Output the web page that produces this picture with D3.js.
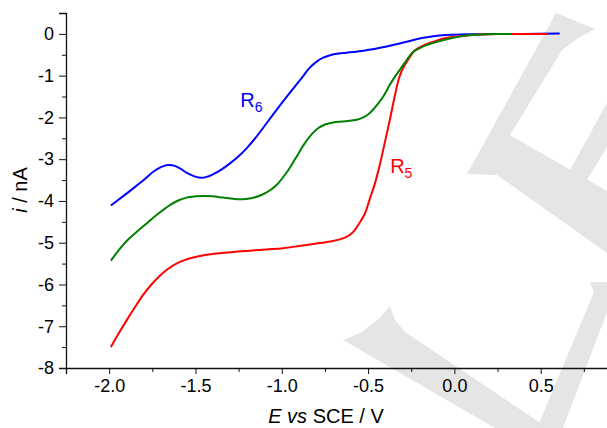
<!DOCTYPE html>
<html>
<head>
<meta charset="utf-8">
<script src="https://cdn.jsdelivr.net/npm/d3@7"></script>
<style>
  body { margin: 0; background: #fff; }
  svg { display: block; font-family: "Liberation Sans", Arial, sans-serif; }
</style>
</head>
<body>
<div id="chart"></div>
<script>
// curve readings [E (V), i (nA)]
const r6 = [[-1.99,-4.11],[-1.93,-3.92],[-1.861,-3.70],[-1.80,-3.50],[-1.745,-3.30],[-1.70,-3.19],[-1.66,-3.14],[-1.62,-3.16],[-1.59,-3.22],[-1.55,-3.33],[-1.513,-3.40],[-1.48,-3.44],[-1.44,-3.43],[-1.397,-3.36],[-1.35,-3.25],[-1.30,-3.10],[-1.25,-2.93],[-1.204,-2.74],[-1.15,-2.48],[-1.088,-2.14],[-1.03,-1.82],[-0.972,-1.51],[-0.92,-1.24],[-0.876,-1.01],[-0.84,-0.82],[-0.80,-0.67],[-0.76,-0.57],[-0.72,-0.51],[-0.67,-0.47],[-0.625,-0.45],[-0.56,-0.42],[-0.509,-0.39],[-0.45,-0.35],[-0.393,-0.30],[-0.33,-0.24],[-0.258,-0.17],[-0.19,-0.10],[-0.123,-0.055],[-0.05,-0.025],[0.07,-0.01],[0.2,0],[0.4,0.0],[0.61,0.01]];
const r5 = [[-1.99,-7.50],[-1.94,-7.14],[-1.899,-6.86],[-1.85,-6.54],[-1.803,-6.25],[-1.755,-6.00],[-1.706,-5.79],[-1.66,-5.63],[-1.61,-5.50],[-1.56,-5.41],[-1.513,-5.355],[-1.45,-5.30],[-1.378,-5.26],[-1.28,-5.22],[-1.185,-5.19],[-1.09,-5.16],[-0.992,-5.13],[-0.90,-5.08],[-0.798,-5.02],[-0.72,-4.97],[-0.663,-4.92],[-0.62,-4.85],[-0.586,-4.74],[-0.55,-4.53],[-0.518,-4.30],[-0.49,-3.95],[-0.46,-3.58],[-0.43,-3.10],[-0.403,-2.60],[-0.375,-2.08],[-0.345,-1.48],[-0.32,-1.05],[-0.295,-0.80],[-0.268,-0.62],[-0.229,-0.40],[-0.18,-0.28],[-0.123,-0.19],[-0.05,-0.10],[0.032,-0.055],[0.13,-0.02],[0.25,-0.005],[0.543,0]];
const mix = [[-1.99,-5.43],[-1.95,-5.21],[-1.899,-4.96],[-1.84,-4.74],[-1.783,-4.54],[-1.72,-4.32],[-1.648,-4.10],[-1.60,-3.99],[-1.552,-3.92],[-1.50,-3.89],[-1.455,-3.88],[-1.40,-3.89],[-1.34,-3.92],[-1.28,-3.95],[-1.224,-3.96],[-1.17,-3.93],[-1.108,-3.84],[-1.06,-3.72],[-1.03,-3.62],[-0.972,-3.32],[-0.92,-2.98],[-0.87,-2.64],[-0.83,-2.42],[-0.79,-2.26],[-0.75,-2.17],[-0.702,-2.12],[-0.65,-2.10],[-0.605,-2.08],[-0.56,-2.05],[-0.528,-2.00],[-0.50,-1.93],[-0.47,-1.81],[-0.44,-1.66],[-0.412,-1.50],[-0.374,-1.22],[-0.345,-1.03],[-0.316,-0.86],[-0.287,-0.69],[-0.26,-0.53],[-0.239,-0.43],[-0.20,-0.34],[-0.161,-0.27],[-0.10,-0.19],[-0.026,-0.11],[0.05,-0.05],[0.128,-0.02],[0.23,-0.005],[0.33,0]];

const xMajor = [-2.0, -1.5, -1.0, -0.5, 0.0, 0.5];
const xMinor = [-2.25, -1.75, -1.25, -0.75, -0.25, 0.25, 0.75];
const yMajor = [0, -1, -2, -3, -4, -5, -6, -7, -8];
const yMinor = [0.5, -0.5, -1.5, -2.5, -3.5, -4.5, -5.5, -6.5, -7.5];

const curveLabels = [
	{name: 'R', sub: '6', x: -1.24, y: -1.76, color: '#0000ff'},
	{name: 'R', sub: '5', x: -0.372, y: -3.34, color: '#ff0000'}
];

// background watermark (decoration only)
const watermark = [
	[[556,13],[595,29],[578,38],[562,50],[510,135],[607,191],[607,253],[497,175],[467,174]],
	[[570,170],[607,103],[607,147],[587,180]],
	[[390,306],[395,320],[405,332],[548,428],[495,428],[343,340],[362,332],[380,318]],
	[[590,282],[607,282],[607,312],[563,428],[537,428],[594,292]]
];

const W = 607, H = 428;
const margin = {top: 13, left: 66};
const plotW = 561, plotH = 355;

const svg = d3.select('#chart').append('svg')
	.attr('width', W).attr('height', H);

svg.selectAll('polygon.wm')
	.data(watermark)
	.enter().append('polygon')
	.attr('class', 'wm')
	.attr('points', d => d.map(p => p.join(',')).join(' '))
	.attr('fill', '#e5e5e5');

const g = svg.append('g').attr('transform', `translate(${margin.left},${margin.top})`);

const x = d3.scaleLinear().domain([-2.25, 1.0]).range([0, plotW]);
const y = d3.scaleLinear().domain([-8, 0.5]).range([plotH, 0]);

const fmtX = d => d3.format('.1f')(d).replace('\u2212', '-');
const fmtY = d => String(d);

/* Y AXIS */
g.append('g')
	.call(d3.axisLeft(y).tickValues(yMajor).tickSize(7).tickPadding(5).tickFormat(fmtY));
g.append('g')
	.call(d3.axisLeft(y).tickValues(yMinor).tickSize(4).tickFormat(''))
	.select('.domain').remove();

/* X AXIS */
g.append('g')
	.attr('transform', `translate(0,${plotH})`)
	.call(d3.axisBottom(x).tickValues(xMajor).tickSize(6).tickPadding(5).tickFormat(fmtX));
g.append('g')
	.attr('transform', `translate(0,${plotH})`)
	.call(d3.axisBottom(x).tickValues(xMinor).tickSize(4).tickFormat(''))
	.select('.domain').remove();

g.selectAll('.domain').attr('stroke', '#111').attr('stroke-width', 1.3);
g.selectAll('.tick line').attr('stroke', '#111').attr('stroke-width', 1);
g.selectAll('.tick text').attr('font-size', 18).attr('fill', '#000')
	.attr('font-family', '"Liberation Sans", Arial, sans-serif');

/* CURVES */
const line = d3.line()
	.x(d => x(d[0]))
	.y(d => y(d[1]))
	.curve(d3.curveCatmullRom.alpha(0.5));

const series = [
	{data: r6, color: '#0000ff'},
	{data: r5, color: '#ff0000'},
	{data: mix, color: '#008000'}
];
g.selectAll('path.curve')
	.data(series)
	.enter().append('path')
	.attr('class', 'curve')
	.attr('d', d => line(d.data))
	.attr('fill', 'none')
	.attr('stroke', d => d.color)
	.attr('stroke-width', 2);

/* LABELS */
const lab = g.selectAll('text.lab')
	.data(curveLabels)
	.enter().append('text')
	.attr('class', 'lab')
	.attr('x', d => x(d.x))
	.attr('y', d => y(d.y))
	.attr('fill', d => d.color)
	.attr('font-size', 20);
lab.append('tspan').text(d => d.name);
lab.append('tspan').attr('font-size', 14).attr('dy', 4.5).text(d => d.sub);

/* AXIS TITLES */
const xt = svg.append('text')
	.attr('x', 326).attr('y', 423)
	.attr('text-anchor', 'middle')
	.attr('font-size', 20);
xt.append('tspan').attr('font-style', 'italic').text('E vs');
xt.append('tspan').text(' SCE / V');

const yt = svg.append('text')
	.attr('transform', 'translate(27,190) rotate(-90)')
	.attr('text-anchor', 'middle')
	.attr('font-size', 20);
yt.append('tspan').attr('font-style', 'italic').text('i');
yt.append('tspan').text(' / nA');
</script>
</body>
</html>
